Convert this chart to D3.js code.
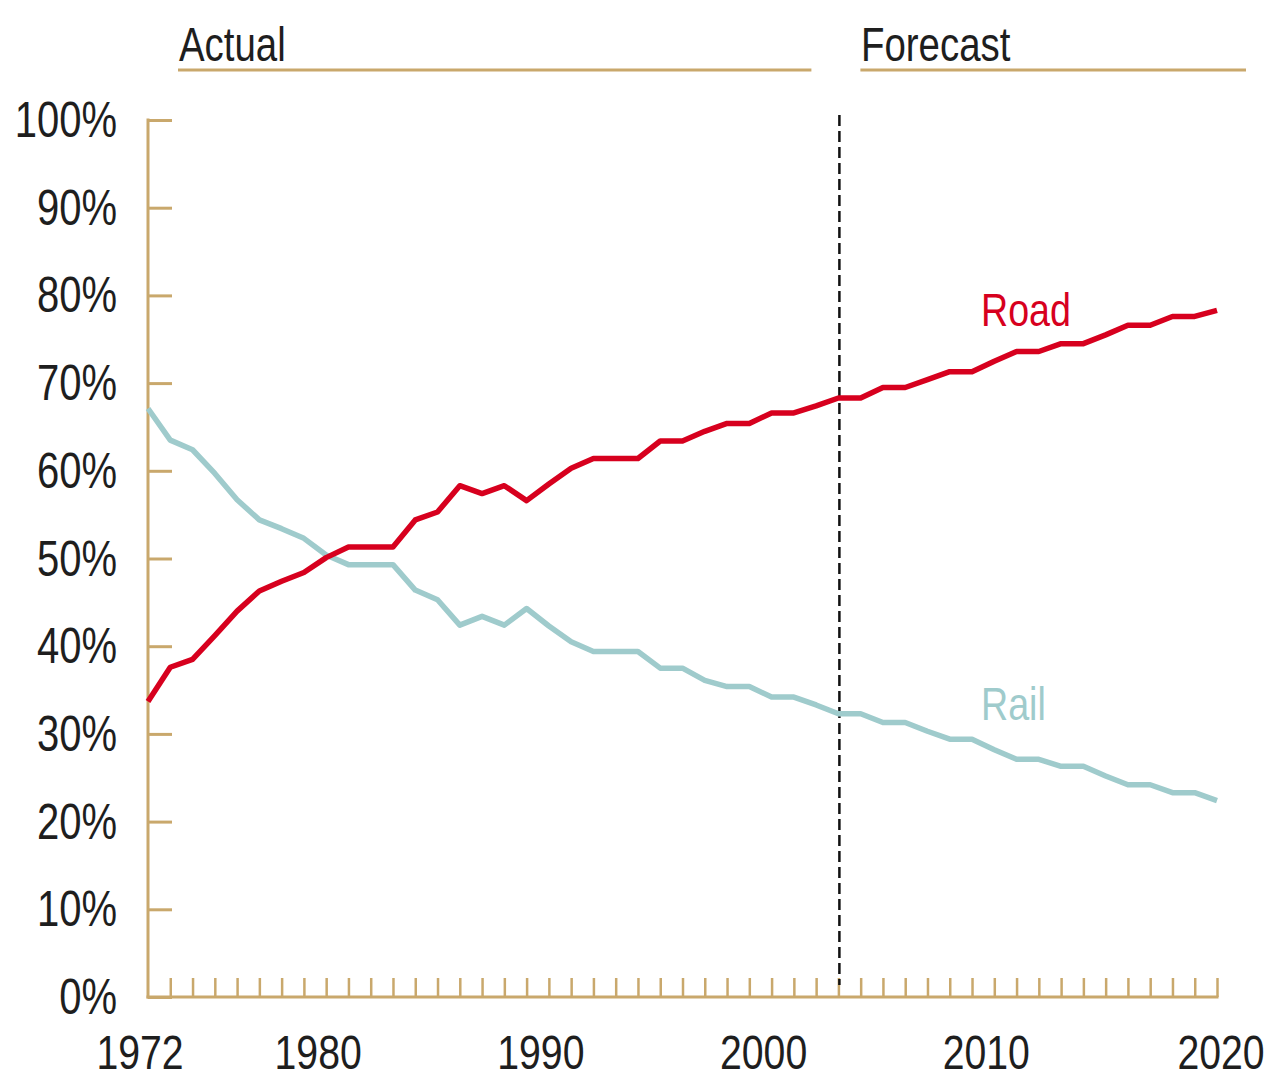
<!DOCTYPE html>
<html>
<head>
<meta charset="utf-8">
<script src="https://cdn.jsdelivr.net/npm/d3@7"></script>
<style>
  html, body { margin: 0; padding: 0; background: #fff; }
  svg { display: block; }
  text { font-family: "Liberation Sans", Arial, sans-serif; }
</style>
</head>
<body>
<svg id="chart" width="1274" height="1080"></svg>
<script>
// ---- data ----
const years = d3.range(1972, 2021);
const roadShare = [33.7, 37.6, 38.5, 41.2, 44.0, 46.3, 47.4, 48.4, 50.1, 51.3,
  51.3, 51.3, 54.4, 55.3, 58.3, 57.4, 58.3, 56.6, 58.5, 60.3,
  61.4, 61.4, 61.4, 63.4, 63.4, 64.5, 65.4, 65.4, 66.6, 66.6,
  67.4, 68.3, 68.3, 69.5, 69.5, 70.4, 71.3, 71.3, 72.5, 73.6,
  73.6, 74.5, 74.5, 75.5, 76.6, 76.6, 77.6, 77.6, 78.3];
const railShare = [67.1, 63.5, 62.4, 59.7, 56.7, 54.4, 53.4, 52.3, 50.4, 49.3,
  49.3, 49.3, 46.4, 45.3, 42.4, 43.4, 42.4, 44.3, 42.3, 40.5,
  39.4, 39.4, 39.4, 37.5, 37.5, 36.1, 35.4, 35.4, 34.2, 34.2,
  33.3, 32.3, 32.3, 31.3, 31.3, 30.3, 29.4, 29.4, 28.2, 27.1,
  27.1, 26.3, 26.3, 25.2, 24.2, 24.2, 23.3, 23.3, 22.4];
const yTicks = [0, 10, 20, 30, 40, 50, 60, 70, 80, 90, 100];
const xLabelYears = [1972, 1980, 1990, 2000, 2010, 2020];
const forecastStart = 2003;
const seriesNames = ["Road", "Rail"];
const periodNames = ["Actual", "Forecast"];

// ---- styles ----
const tan = "#c9a86c";
const roadColor = "#d7001e";
const railColor = "#9fcbcc";
const textColor = "#1e1e1e";
const squeeze = 0.8;

const svg = d3.select("#chart");
const x = d3.scaleLinear().domain([1972, 2020]).range([148, 1217]);
const y = d3.scaleLinear().domain([0, 100]).range([997, 120]);

function condensed(sel, tx, ty) {
  return sel.attr("x", 0).attr("y", 0)
    .attr("transform", (d, i) => `translate(${typeof tx === "function" ? tx(d, i) : tx},${typeof ty === "function" ? ty(d, i) : ty}) scale(${squeeze},1)`);
}

// y axis
const yAxis = d3.axisRight(y).tickValues(yTicks).tickSize(24).tickFormat("");
const gy = svg.append("g").attr("transform", `translate(${x(1972)},0)`).call(yAxis);
gy.select(".domain").remove();
gy.selectAll(".tick line").attr("stroke", tan).attr("stroke-width", 3);
svg.append("line").attr("x1", x(1972)).attr("x2", x(1972))
  .attr("y1", y(100) - 1.5).attr("y2", y(0) + 1.5)
  .attr("stroke", tan).attr("stroke-width", 3);
svg.append("g").selectAll("text").data(yTicks).join("text")
  .call(condensed, 117, d => y(d) + 17)
  .attr("text-anchor", "end").attr("font-size", 50).attr("fill", textColor)
  .text(d => d + "%");

// x axis
const xAxis = d3.axisTop(x).tickValues(years.slice(1)).tickSize(19).tickFormat("");
const gx = svg.append("g").attr("transform", `translate(0,${y(0)})`).call(xAxis);
gx.select(".domain").remove();
gx.selectAll(".tick line").attr("stroke", tan).attr("stroke-width", 2.5);
svg.append("line").attr("x1", x(1972) - 1.5).attr("x2", x(2020) + 1.5)
  .attr("y1", y(0)).attr("y2", y(0))
  .attr("stroke", tan).attr("stroke-width", 3);
svg.append("g").selectAll("text").data(xLabelYears).join("text")
  .call(condensed, d => x(d) + (d === 2020 ? 4 : -8), 1069)
  .attr("text-anchor", "middle").attr("font-size", 49).attr("fill", textColor)
  .text(d => d);

// Actual / Forecast headers
svg.append("text").call(condensed, 179, 61).attr("font-size", 48)
  .attr("fill", textColor).text(periodNames[0]);
svg.append("line").attr("x1", 178).attr("x2", x(forecastStart) - 27)
  .attr("y1", 70).attr("y2", 70).attr("stroke", tan).attr("stroke-width", 3);
svg.append("text").call(condensed, 861, 61).attr("font-size", 48)
  .attr("fill", textColor).text(periodNames[1]);
svg.append("line").attr("x1", x(forecastStart) + 22).attr("x2", 1246)
  .attr("y1", 70).attr("y2", 70).attr("stroke", tan).attr("stroke-width", 3);

// dashed divider
svg.append("line").attr("x1", x(forecastStart) + 1).attr("x2", x(forecastStart) + 1)
  .attr("y1", 115).attr("y2", 985)
  .attr("stroke", "#111").attr("stroke-width", 2.5).attr("stroke-dasharray", "11,5");

// lines
const line = d3.line().x((d, i) => x(years[i])).y(d => y(d));
svg.append("path").datum(railShare).attr("d", line)
  .attr("fill", "none").attr("stroke", railColor).attr("stroke-width", 5.5)
  .attr("stroke-linejoin", "round");
svg.append("path").datum(roadShare).attr("d", line)
  .attr("fill", "none").attr("stroke", roadColor).attr("stroke-width", 5.5)
  .attr("stroke-linejoin", "round");

// series labels
svg.append("text").call(condensed, 981, 326).attr("font-size", 47)
  .attr("fill", roadColor).text(seriesNames[0]);
svg.append("text").call(condensed, 981, 720).attr("font-size", 47)
  .attr("fill", railColor).text(seriesNames[1]);
</script>
</body>
</html>
